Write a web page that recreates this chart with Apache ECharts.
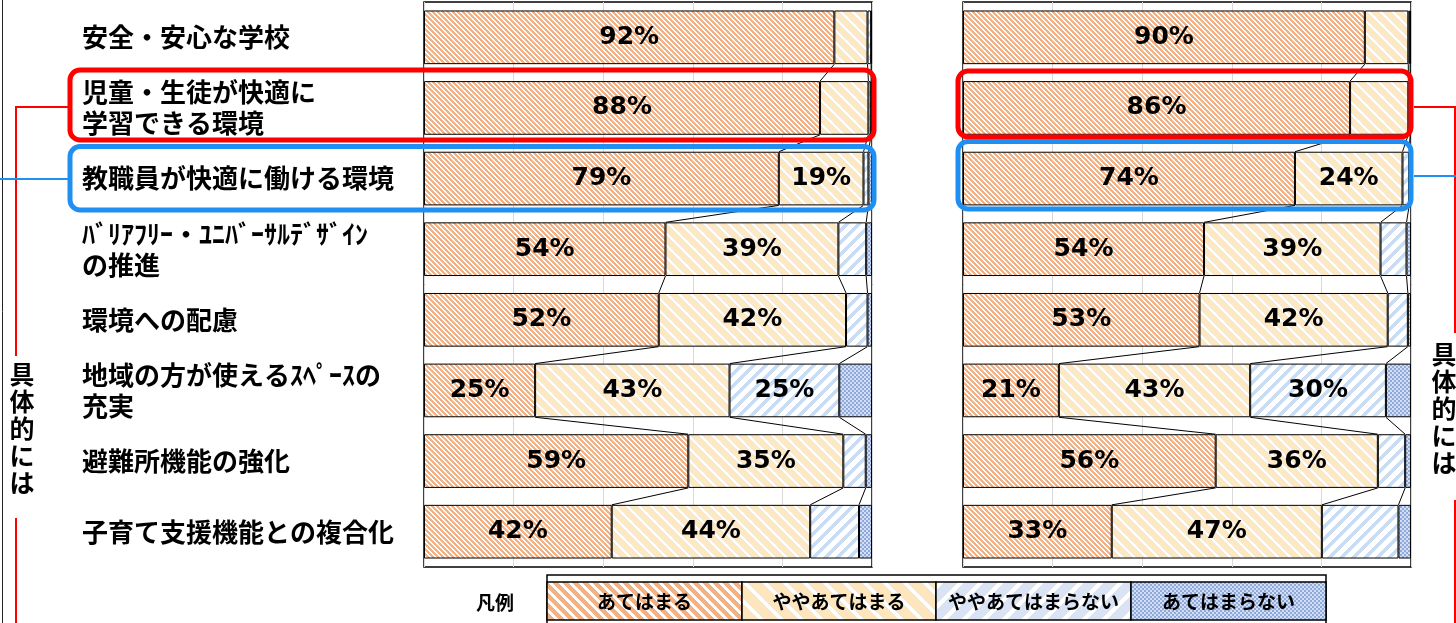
<!DOCTYPE html>
<html><head><meta charset="utf-8">
<script src="https://cdn.jsdelivr.net/npm/echarts@6/dist/echarts.min.js"></script>
<style>html,body{margin:0;padding:0;background:#fff;}#c{width:1456px;height:623px;}</style>
</head><body><div id="c"></div>
<script>
// ---- data ----
const categories = ['安全・安心な学校','児童・生徒が快適に\n学習できる環境','教職員が快適に働ける環境','ﾊﾞﾘｱﾌﾘｰ・ﾕﾆﾊﾞｰｻﾙﾃﾞｻﾞｲﾝ\nの推進','環境への配慮','地域の方が使えるｽﾍﾟｰｽの\n充実','避難所機能の強化','子育て支援機能との複合化'];
const seriesNames = ['あてはまる','ややあてはまる','ややあてはまらない','あてはまらない'];
const leftA = [91.6, 88.4, 79.2, 53.9, 52.4, 24.8, 59.0, 41.9];
const leftB = [7.4, 10.8, 18.9, 38.6, 41.8, 43.4, 34.6, 44.3];
const leftC = [0.8, 0.6, 1.1, 6.2, 4.8, 24.5, 5.0, 10.9];
const leftD = [0.2, 0.2, 0.8, 1.3, 1.0, 7.3, 1.4, 2.9];
const rightA = [89.7, 86.4, 74.1, 53.8, 52.8, 21.4, 56.4, 33.2];
const rightB = [9.7, 13.0, 24.0, 39.4, 42.0, 42.7, 36.2, 46.9];
const rightC = [0.4, 0.4, 1.5, 5.8, 4.5, 30.3, 6.1, 17.1];
const rightD = [0.2, 0.2, 0.4, 1.0, 0.7, 5.6, 1.3, 2.8];
const legendTitle = '凡例';
const sideNote = '具\n体\n的\nに\nは';

// ---- patterns ----
function hex(c){return [parseInt(c.substr(1,2),16),parseInt(c.substr(3,2),16),parseInt(c.substr(5,2),16)];}
function makePattern(size, fn){
  const cv = document.createElement('canvas'); cv.width = size; cv.height = size;
  const ctx = cv.getContext('2d'); const img = ctx.createImageData(size, size);
  for (let y=0;y<size;y++) for (let x=0;x<size;x++){
    const c = hex(fn(x,y)); const o=(y*size+x)*4;
    img.data[o]=c[0]; img.data[o+1]=c[1]; img.data[o+2]=c[2]; img.data[o+3]=255;
  }
  ctx.putImageData(img,0,0);
  return {image: cv, repeat: 'repeat'};
}
const mod=(a,n)=>((a%n)+n)%n;
const pats = [
  makePattern(10,(x,y)=> mod(x-y,5)<3 ? '#f4b183' : '#ffffff'),
  makePattern(12,(x,y)=> mod(x-y,12)<3 ? '#ffffff' : '#fde8c4'),
  makePattern(12,(x,y)=> mod(x+y,12)<5 ? '#cadcf1' : '#ffffff'),
  makePattern(4,(x,y)=> ((x>>1)+(y>>1))%2 ? '#8eaadb' : '#d3ddf3')
];
const legPats = [
  makePattern(10,(x,y)=> mod(x-y,10)<6 ? '#f4b183' : '#ffffff'),
  makePattern(20,(x,y)=> mod(x-y,20)<5 ? '#ffffff' : '#fde6bd'),
  makePattern(20,(x,y)=> mod(x+y,20)<6 ? '#ffffff' : '#d9e3f3'),
  makePattern(4,(x,y)=> ((x>>1)+(y>>1))%2 ? '#8eaadb' : '#d3ddf3')
];

const chart = echarts.init(document.getElementById('c'), null, {renderer:'canvas'});
const sides = [[leftA,leftB,leftC,leftD],[rightA,rightB,rightC,rightD]];
const barGap = 0.24;

function barSeries(side){
  return sides[side].map((arr,k)=>({
    type:'bar', name: seriesNames[k], stack: 's'+side, xAxisIndex: side, yAxisIndex: side,
    data: arr, barCategoryGap: (barGap*100)+'%',
    itemStyle:{color: pats[k], borderColor:'#000', borderWidth:1},
    emphasis:{disabled:true},
    label:{show:true, position:'inside', color:'#000', fontFamily:'DejaVu Sans', fontWeight:'bold', fontSize:25,
      formatter: p => p.value >= 18 ? Math.round(p.value)+'%' : ''}
  }));
}
function seriesLines(side){
  const arrs = sides[side];
  return {
    type:'custom', xAxisIndex: side, yAxisIndex: side, z: 5, silent:true,
    data: categories.slice(0,-1).map((c,i)=>[0,i]),
    encode:{x:0,y:1},
    renderItem:(params, api)=>{
      const i = api.value(1);
      const band = api.size([0,1])[1];
      const h = band*(1-barGap)/2;
      const ch=[]; let c1=0,c2=0;
      for(let k=0;k<3;k++){
        c1+=arrs[k][i]; c2+=arrs[k][i+1];
        const p1=api.coord([c1,i]), p2=api.coord([c2,i+1]);
        ch.push({type:'line', shape:{x1:p1[0],y1:p1[1]+h,x2:p2[0],y2:p2[1]-h}, style:{stroke:'#000',lineWidth:1}});
      }
      return {type:'group', children:ch};
    }
  };
}

const legendCells = [];
const lx = [547, 742, 936, 1131, 1326];
seriesNames.forEach((n,k)=>{
  legendCells.push({type:'rect', shape:{x:lx[k], y:582, width:lx[k+1]-lx[k], height:38}, style:{fill:legPats[k], stroke:'#000', lineWidth:1.5}, z:10});
  legendCells.push({type:'text', x:(lx[k]+lx[k+1])/2, y:602, style:{text:n, fill:'#000', font:'bold 19px "Noto Sans CJK JP"', textAlign:'center', textVerticalAlign:'middle'}, z:11});
});

const option = {
  animation:false,
  grid:[
    {left:424, width:448, top:2, height:565, show:true, borderColor:'#000', borderWidth:1.5, backgroundColor:'transparent'},
    {left:963, width:448, top:2, height:565, show:true, borderColor:'#000', borderWidth:1.5, backgroundColor:'transparent'}
  ],
  xAxis:[0,1].map(i=>({type:'value', gridIndex:i, min:0, max:100, interval:20, axisLabel:{show:false}, axisLine:{show:false}, axisTick:{show:false},
    splitLine:{show:true, lineStyle:{color:'#d9d9d9', width:1}}})),
  yAxis:[
    {type:'category', gridIndex:0, inverse:true, data:categories, axisTick:{show:false}, axisLine:{show:false},
      axisLabel:{align:'left', margin:342, color:'#000', fontFamily:'Noto Sans CJK JP', fontWeight:'bold', fontSize:26, lineHeight:31}},
    {type:'category', gridIndex:1, inverse:true, data:categories, axisTick:{show:false}, axisLine:{show:false}, axisLabel:{show:false}}
  ],
  series:[...barSeries(0), ...barSeries(1), seriesLines(0), seriesLines(1)],
  graphic:[
    {type:'line', shape:{x1:2.5,y1:0,x2:2.5,y2:623}, style:{stroke:'#222', lineWidth:1}},
    // left red connectors
    {type:'polyline', shape:{points:[[68,107],[16,107],[16,356]]}, style:{stroke:'#ff0000', lineWidth:2, fill:null}},
    {type:'line', shape:{x1:16,y1:518,x2:16,y2:623}, style:{stroke:'#ff0000', lineWidth:2}},
    {type:'line', shape:{x1:0,y1:179,x2:68,y2:179}, style:{stroke:'#1f8ff2', lineWidth:2}},
    {type:'text', x:22, y:428, style:{text:sideNote, fill:'#000', font:'bold 25px "Noto Sans CJK JP"', lineHeight:27, textAlign:'center', textVerticalAlign:'middle'}},
    // right connectors
    {type:'polyline', shape:{points:[[1414,107],[1455,107],[1455,333]]}, style:{stroke:'#ff0000', lineWidth:2, fill:null}},
    {type:'line', shape:{x1:1455,y1:500,x2:1455,y2:623}, style:{stroke:'#ff0000', lineWidth:2}},
    {type:'line', shape:{x1:1414,y1:176,x2:1456,y2:176}, style:{stroke:'#1f8ff2', lineWidth:2}},
    {type:'text', x:1444, y:408, style:{text:sideNote, fill:'#000', font:'bold 25px "Noto Sans CJK JP"', lineHeight:27, textAlign:'center', textVerticalAlign:'middle'}},
    // highlight boxes
    {type:'rect', shape:{x:70, y:70, width:804, height:70, r:10}, style:{fill:null, stroke:'#ff0000', lineWidth:5}, z:100},
    {type:'rect', shape:{x:70, y:146.5, width:804, height:63.5, r:10}, style:{fill:null, stroke:'#1f8ff2', lineWidth:5}, z:100},
    {type:'rect', shape:{x:958, y:71, width:453, height:66, r:10}, style:{fill:null, stroke:'#ff0000', lineWidth:5}, z:100},
    {type:'rect', shape:{x:958, y:141.5, width:453, height:67.5, r:10}, style:{fill:null, stroke:'#1f8ff2', lineWidth:5}, z:100},
    // legend
    {type:'rect', shape:{x:547, y:575, width:779, height:60}, style:{fill:'#fff', stroke:'#000', lineWidth:1.5}, z:9},
    {type:'text', x:495, y:603, style:{text:legendTitle, fill:'#000', font:'bold 19px "Noto Sans CJK JP"', textAlign:'center', textVerticalAlign:'middle'}},
    ...legendCells
  ]
};
chart.setOption(option);
</script></body></html>
